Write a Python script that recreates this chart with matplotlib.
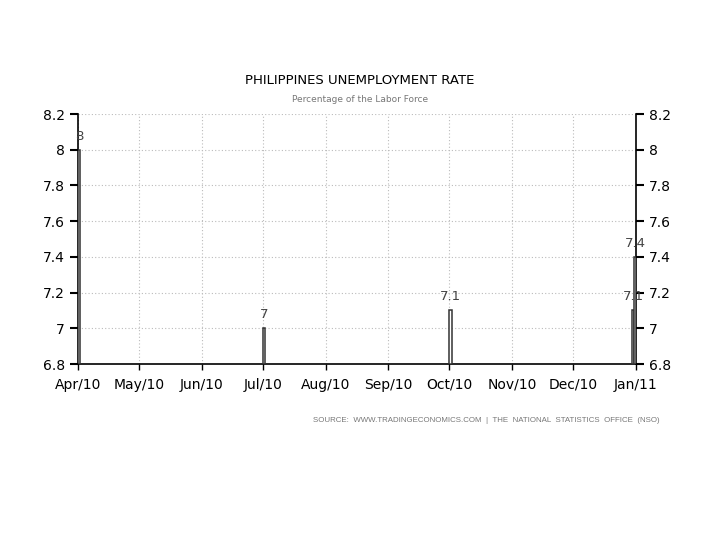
import matplotlib
matplotlib.use("Agg")
import matplotlib.pyplot as plt
import datetime as dt

dates = ["2010-04-01", "2010-07-01", "2010-10-01", "2010-12-30", "2010-12-31"]
values = [8.0, 7.0, 7.1, 7.1, 7.4]
labels = ["8", "7", "7.1", "7.1", "7.4"]
yticks = [6.8, 7.0, 7.2, 7.4, 7.6, 7.8, 8.0, 8.2]
yticklabels = ["6.8", "7", "7.2", "7.4", "7.6", "7.8", "8", "8.2"]
month_ticks = ["2010-04-01", "2010-05-01", "2010-06-01", "2010-07-01", "2010-08-01",
               "2010-09-01", "2010-10-01", "2010-11-01", "2010-12-01", "2011-01-01"]
month_labels = ["Apr/10", "May/10", "Jun/10", "Jul/10", "Aug/10", "Sep/10",
                "Oct/10", "Nov/10", "Dec/10", "Jan/11"]

d = [dt.datetime.strptime(s, "%Y-%m-%d") for s in dates]
mt = [dt.datetime.strptime(s, "%Y-%m-%d") for s in month_ticks]

plt.rcParams['font.family'] = ['DejaVu Sans']
fig = plt.figure(figsize=(7.2, 5.4), dpi=100)
ax = fig.add_axes([78/720, 1-364/540, (636-78)/720, (364-114)/540])

ax.bar(d, [v - 6.8 for v in values], bottom=6.8, width=1.1, align='edge',
       facecolor='white', edgecolor='#333333', linewidth=1.1, zorder=3)
for x, v, lab in zip(d, values, labels):
    ax.text(x + dt.timedelta(hours=12), v + 0.04, lab, ha='center', va='bottom',
            fontsize=9.5, color='#444444', zorder=4)

ax.set_xlim(mt[0], mt[-1])
ax.set_ylim(6.8, 8.2)
ax.set_yticks(yticks)
ax.set_yticklabels(yticklabels)
ax.set_xticks(mt)
ax.set_xticklabels(month_labels)
ax.tick_params(axis='y', which='both', left=True, right=True, labelleft=True,
               labelright=True, direction='out', length=6, width=1.5,
               labelsize=10, colors='black')
ax.tick_params(axis='x', direction='out', length=4, width=1, labelsize=10, pad=6)
ax.grid(True, linestyle=(0, (1, 2)), color='#bbbbbb', linewidth=0.8)
ax.spines['top'].set_visible(False)
for s in ['left', 'right', 'bottom']:
    ax.spines[s].set_color('black')
    ax.spines[s].set_linewidth(1.2)

fig.text(0.5, 1-80/540, "PHILIPPINES UNEMPLOYMENT RATE", ha='center', va='center',
         fontsize=9.5, color='black', fontweight='medium')
fig.text(0.5, 1-100/540, "Percentage of the Labor Force", ha='center', va='center',
         fontsize=6.5, color='#777777')
fig.text(660/720, 1-420/540, "SOURCE:  WWW.TRADINGECONOMICS.COM  |  THE  NATIONAL  STATISTICS  OFFICE  (NSO)",
         ha='right', va='center', fontsize=5.7, color='#777777', family='Liberation Sans')

fig.savefig("out.png", dpi=100, facecolor='white')
